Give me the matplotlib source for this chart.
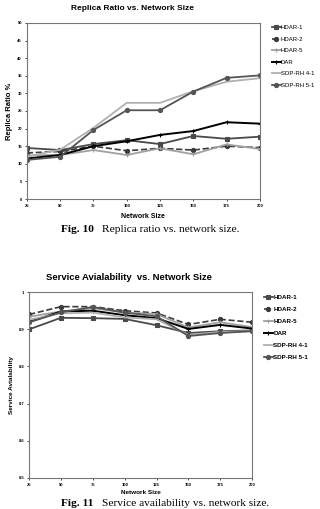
import matplotlib
matplotlib.use("Agg")
import matplotlib.pyplot as plt

plt.rcParams['font.family'] = ['Liberation Sans', 'DejaVu Sans']

# network sizes
sizes = [25, 50, 75, 100, 125, 150, 175, 200]
labels = ["HDAR-1", "HDAR-2", "HDAR-5", "DAR", "SDP-RH 4-1", "SDP-RH 5-1"]

# replica ratio (%)
rr_hdar1 = [14.5, 13.9, 15.6, 16.7, 15.6, 17.9, 17.1, 17.7]
rr_hdar2 = [13.1, 13.5, 15.0, 13.7, 14.4, 13.9, 15.0, 14.6]
rr_hdar5 = [12.4, 12.5, 13.9, 12.5, 14.4, 12.7, 15.5, 14.2]
rr_dar = [11.5, 12.5, 15.0, 16.4, 18.2, 19.3, 21.8, 21.4]
rr_sdp41 = [12.0, 14.0, 20.2, 27.3, 27.3, 30.6, 33.3, 34.3]
rr_sdp51 = [11.1, 12.0, 19.6, 25.2, 25.2, 30.5, 34.4, 35.1]

# service availability
sa_hdar1 = [0.900, 0.931, 0.930, 0.928, 0.911, 0.890, 0.895, 0.897]
sa_hdar2 = [0.940, 0.961, 0.961, 0.950, 0.944, 0.913, 0.927, 0.919]
sa_hdar5 = [0.934, 0.948, 0.957, 0.945, 0.941, 0.905, 0.919, 0.906]
sa_dar = [0.920, 0.948, 0.950, 0.938, 0.930, 0.901, 0.912, 0.902]
sa_sdp41 = [0.926, 0.943, 0.945, 0.932, 0.927, 0.885, 0.893, 0.895]
sa_sdp51 = [0.919, 0.946, 0.960, 0.945, 0.935, 0.882, 0.890, 0.895]

# style per series: color, linestyle, marker, linewidth
styles = [
    ("#4a4a4a", "-", "s", 1.3),
    ("#3a3a3a", "--", "o", 1.2),
    ("#a0a0a0", "-", "+", 1.3),
    ("#000000", "-", "+", 1.4),
    ("#b0b0b0", "-", "", 1.3),
    ("#555555", "-", "o", 1.3),
]


def draw(ax, series, ylim, yticks, yticklabels, title, ylabel, title_x,
         leg_size, leg_weight):
    for vals, lab, (c, ls, mk, lw) in zip(series, labels, styles):
        ax.plot(sizes, vals, color=c, linestyle=ls, marker=mk, markersize=3,
                markeredgewidth=0.8, linewidth=lw, label=lab)
    ax.set_xlim(25, 200)
    ax.set_ylim(*ylim)
    ax.set_xticks(sizes)
    ax.set_xticklabels([str(s) for s in sizes], fontsize=3, fontweight="bold")
    ax.set_yticks(yticks)
    ax.set_yticklabels(yticklabels, fontsize=3, fontweight="bold")
    ax.tick_params(length=1.5, width=0.5, pad=2)
    for sp in ax.spines.values():
        sp.set_color("#777777")
        sp.set_linewidth(0.8)
    ax.set_title(title, fontsize=6, fontweight="bold", pad=9, x=title_x)
    ax.set_xlabel("Network Size", fontsize=5, fontweight="bold", labelpad=4)
    ax.set_ylabel(ylabel, fontsize=5.5, fontweight="bold", labelpad=3)
    ax.legend(loc="upper left", bbox_to_anchor=(1.04, 1.0), frameon=False,
              prop={"size": leg_size, "weight": leg_weight},
              handlelength=1.5, handletextpad=0.05,
              labelspacing=1.05, borderaxespad=0.0)


fig = plt.figure(figsize=(3.2, 5.09), dpi=100)

ax1 = fig.add_axes([0.084, 0.609, 0.728, 0.346])
draw(ax1, [rr_hdar1, rr_hdar2, rr_hdar5, rr_dar, rr_sdp41, rr_sdp51],
     (0, 50), list(range(0, 51, 5)), [str(v) for v in range(0, 51, 5)],
     "Replica Ratio vs. Network Size", "Replica Ratio %", 0.455,
     4.3, "normal")

ax2 = fig.add_axes([0.091, 0.061, 0.697, 0.365])
sa_ticks = [0.5, 0.6, 0.7, 0.8, 0.9, 1.0]
draw(ax2, [sa_hdar1, sa_hdar2, sa_hdar5, sa_dar, sa_sdp41, sa_sdp51],
     (0.5, 1.0), sa_ticks, ["0.5", "0.6", "0.7", "0.8", "0.9", "1"],
     "Service Avialability  vs. Network Size", "Service Avialability", 0.448,
     4.5, "bold")
ax2.title.set_fontsize(6.8)
ax2.yaxis.label.set_fontsize(4.6)
ax2.xaxis.label.set_fontsize(4.6)
ax2.xaxis.labelpad = 2

fig.text(0.19, 1 - 229 / 509, "Fig. 10", family="Liberation Serif",
         fontweight="bold", fontsize=8.2, va="center")
fig.text(0.32, 1 - 229 / 509, "Replica ratio vs. network size.",
         family="Liberation Serif", fontsize=8.2, va="center")
fig.text(0.19, 0.001, "Fig. 11", family="Liberation Serif",
         fontweight="bold", fontsize=8.2, va="bottom")
fig.text(0.32, 0.001, "Service availability vs. network size.",
         family="Liberation Serif", fontsize=8.2, va="bottom")

fig.savefig("out.png", dpi=100)
